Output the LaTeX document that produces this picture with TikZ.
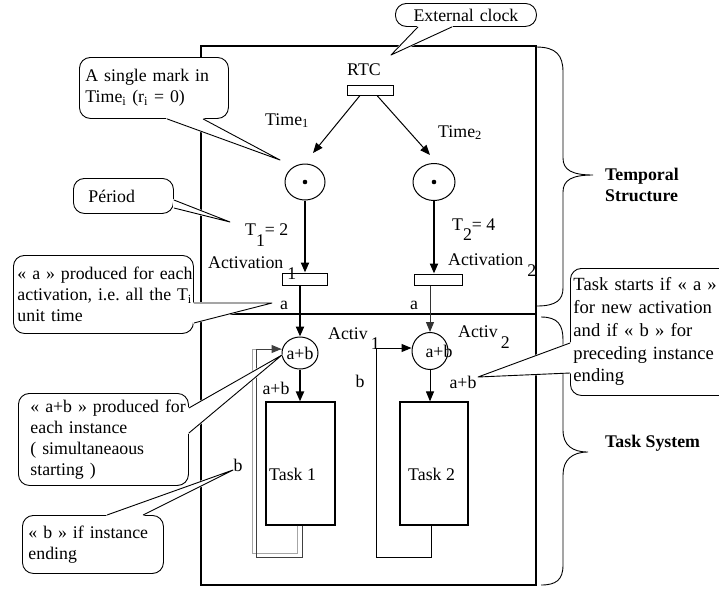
\documentclass[tikz,border=0pt]{standalone}
\usepackage{fontspec}
\setmainfont{Liberation Serif}
\usetikzlibrary{arrows.meta,shapes.geometric}
\frenchspacing
\newcommand\dgfont{\fontsize{17.8}{21}\selectfont}
\newcommand\dgbigfont{\fontsize{18.6}{22.75}\selectfont}
\newcommand\callptr[3]{%
  \filldraw[white,line width=1.8pt,line join=round] #1 -- #3 -- #2 -- cycle;
  \draw[line width=0.9pt,line join=round] #1 -- #3 -- #2;}
\begin{document}
\begin{tikzpicture}[x=1pt,y=-1pt,
  every node/.style={font=\dgfont, inner sep=0pt},
  trans/.style={draw, rectangle, line width=1pt},
  place/.style={draw, ellipse, line width=1pt},
  arr/.style={-{Triangle[length=10pt,width=8pt]}},
  thickarr/.style={arr, line width=2pt},
  thinarr/.style={arr, line width=1pt},
  cbox/.style={draw, fill=white, rounded corners=11pt, line width=0.9pt, anchor=north west, align=left},
  tk/.style={draw, rectangle, line width=1.2pt, minimum width=69pt, minimum height=123pt},
  bold/.style={font=\dgfont\bfseries}
]
\useasboundingbox (0,0) rectangle (719,589);

% frame
\draw[line width=1.3pt] (201,46) rectangle (536,585);
\draw[line width=1.3pt] (201,314) -- (536,314);

% braces
\draw[line width=0.9pt] (536,47) .. controls (556,47) and (563,55) .. (563,72) -- (563,158)
  .. controls (563,170) and (572,175) .. (593,175) .. controls (572,175) and (563,180) .. (563,192)
  -- (563,288) .. controls (563,300) and (556,306) .. (537,306);
\draw[line width=0.9pt] (541,317) .. controls (558,317) and (563,325) .. (563,340) -- (563,430)
  .. controls (563,445) and (572,452) .. (588,452) .. controls (572,452) and (563,460) .. (563,475)
  -- (563,565) .. controls (563,580) and (556,585) .. (541,585);
\node[bold, align=left, anchor=west] (ts) at (605,184.5) {Temporal\\Structure};
\node[bold, anchor=base west] (tsys) at (605,447) {Task System};

% RTC
\node[trans, minimum width=46pt, minimum height=10pt] (rtc) at (370,90) {};
\node[anchor=base] (rtcl) at (364,75) {RTC};

% places
\node[place, minimum width=40pt, minimum height=36pt] (p1) at (305,182) {};
\fill (p1.center) circle (2.3pt);
\node[place, minimum width=42pt, minimum height=37pt] (p2) at (434,182) {};
\fill (p2.center) circle (2.3pt);

\coordinate (p1in) at (313,153);
\coordinate (p2in) at (430,155);
\draw[thinarr] ([xshift=-10pt]rtc.south) -- (p1in);
\draw[thinarr] ([xshift=7pt]rtc.south) -- (p2in);

\node[anchor=base west] (time1) at (265,125) {Time\textsubscript{1}};
\node[anchor=base west] (time2) at (438,137) {Time\textsubscript{2}};
\node[anchor=base west] (T1) at (245,235) {T\raisebox{-11pt}{1}= 2};
\node[anchor=base west] (T2) at (452,230) {T\raisebox{-10pt}{2}= 4};

% transitions
\node[trans, minimum width=45pt, minimum height=12pt] (t1) at (304.5,279) {};
\node[trans, minimum width=48pt, minimum height=11pt] (t2) at (438,279.5) {};
\draw[thickarr] (p1.south) -- (p1.south |- t1.north);
\draw[thickarr] (p2.south) -- (p2.south |- t2.north);
\node[anchor=base west] (act1) at (208,268) {Activation\hspace{4pt}\raisebox{-11pt}{1}};
\node[anchor=base west] (act2) at (448,265) {Activation\hspace{4pt}\raisebox{-11pt}{2}};

% activation places
\node[place, minimum width=36pt, minimum height=32pt] (c1) at (300,353) {\makebox[0pt]{a+b}};
\node[place, minimum width=36pt, minimum height=37pt] (c2) at (430,351) {\makebox[0pt]{\hspace{18pt}\raisebox{-4pt}{a+b}}};
\node[anchor=base west] (activ1) at (328,339) {Activ\hspace{3pt}\raisebox{-10pt}{1}};
\node[anchor=base west] (activ2) at (458,337) {Activ\hspace{3pt}\raisebox{-11pt}{2}};

% tasks
\node[tk] (task1) at (300.5,463.5) {};
\node[tk, minimum width=68pt] (task2) at (434,463.5) {};
\node[anchor=base west] (task1l) at (269,480) {Task 1};
\node[anchor=base west] (task2l) at (408,480) {Task 2};

\draw[thickarr] (c1.north |- t1.south) -- (c1.north);
\draw[thickarr] (c1.south) -- (c1.south |- task1.north);
\draw[thinarr, draw=black!80] (c2.north |- t2.south) -- (c2.north);
\draw[thinarr] (c2.south) -- (c2.south |- task2.north);

% loops
\coordinate (l1a) at (252,553);
\coordinate (l1b) at (256,557);
\coordinate (l2) at (376,557);
\draw[line width=1pt, black!35] ([xshift=-3pt]task1.south) |- (l1a) |- ([yshift=4pt]c1.west);
\draw[thinarr, draw=black!75] ([xshift=2pt]task1.south) |- (l1b) |- ([yshift=4pt]c1.west);
\draw[thinarr] ([xshift=-3pt]task2.south) |- (l2) |- ([yshift=3pt]c2.west);

% arc labels
\node (a1) at (284,305) {a};
\node (a2) at (414,305) {a};
\node[anchor=base] (ab1) at (276,394) {a+b};
\node[anchor=base] (ab2) at (463,388) {a+b};
\node[anchor=base] (b2) at (360,387) {b};
\node[anchor=base] (b1) at (238,471) {b};

% callouts
\node[cbox, minimum width=141pt, minimum height=23pt, text width=129pt, inner xsep=6pt, align=center] (co1) at (395,3) {External clock};
\coordinate (k1) at (391,55);
\callptr{([xshift=23pt]co1.south west)}{([xshift=57pt]co1.south west)}{(k1)}

\node[cbox, minimum width=149pt, minimum height=61pt, text width=137pt, inner xsep=6pt] (co2) at (79,57)
  {\mbox{A single mark in}\\\mbox{Time\textsubscript{i} (r\textsubscript{i} = 0)}};
\coordinate (k2) at (280,160);
\callptr{([xshift=88pt]co2.south west)}{([xshift=124pt]co2.south west)}{(k2)}

\node[cbox, minimum width=100pt, minimum height=35pt, text width=70pt, inner xsep=15pt] (co3) at (73,178) {Périod};
\coordinate (k3) at (230,222);
\callptr{([yshift=-22pt]co3.north east)}{([yshift=-30pt]co3.north east)}{(k3)}

\node[cbox, minimum width=180pt, minimum height=78pt, text width=172pt, inner xsep=4pt] (co4) at (13,255)
  {\mbox{« a » produced for each}\\\mbox{activation, i.e.\ all the T\textsubscript{i}}\\\mbox{unit time}};
\coordinate (k4) at (272,303);
\callptr{([yshift=-48pt]co4.north east)}{([yshift=-68pt]co4.north east)}{(k4)}

\node[cbox, minimum width=170pt, minimum height=92pt, text width=146pt, inner xsep=12pt] (co5) at (18,393)
  {\mbox{« a+b » produced for}\\\mbox{each instance}\\\mbox{( simultaneaous}\\\mbox{starting )}};
\coordinate (k5) at (282,355);
\callptr{([yshift=-15pt]co5.north east)}{([yshift=-40pt]co5.north east)}{(k5)}

\node[cbox, minimum width=141pt, minimum height=58pt, text width=129pt, inner xsep=6pt] (co6) at (22,515)
  {\mbox{« b » if instance}\\\mbox{ending}};
\coordinate (k6) at (233,470);
\callptr{([xshift=85pt]co6.north west)}{([xshift=121pt]co6.north west)}{(k6)}

\node[cbox, font=\dgbigfont, minimum width=165pt, minimum height=127pt, text width=159pt, inner xsep=3pt] (co7) at (570,268)
  {\mbox{Task starts if « a »}\\\mbox{for new activation}\\\mbox{and if « b » for}\\\mbox{preceding instance}\\\mbox{ending}};
\coordinate (k7) at (478,377);
\callptr{([yshift=-75pt]co7.north west)}{([yshift=-105pt]co7.north west)}{(k7)}
\end{tikzpicture}
\end{document}
